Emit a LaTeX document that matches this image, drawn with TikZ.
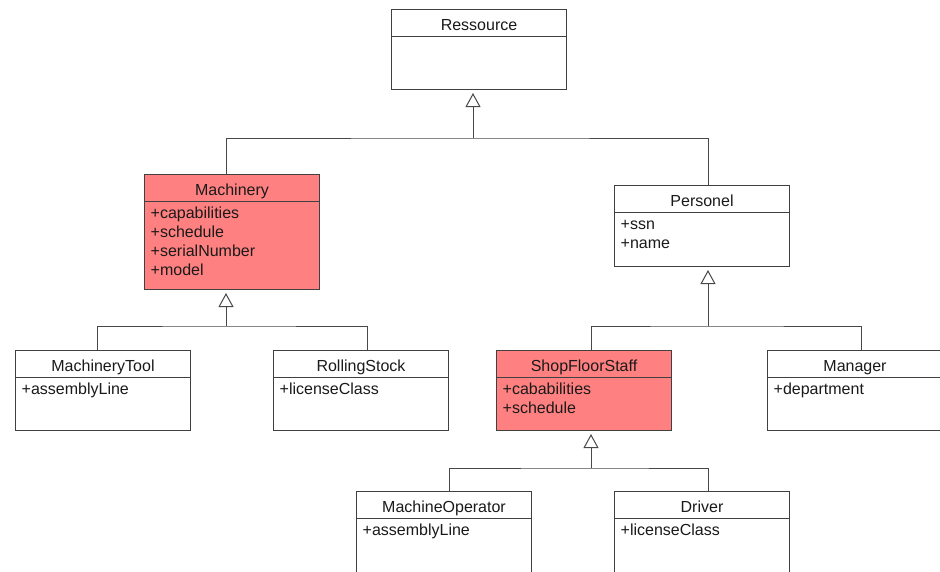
\documentclass[tikz,border=0pt]{standalone}
\usepackage{fontspec}
\setmainfont{Liberation Sans}
\usetikzlibrary{arrows.meta,calc}

\definecolor{hilite}{HTML}{FF8080}
\definecolor{edgegray}{HTML}{404040}
\definecolor{wiregray}{HTML}{484848}
\definecolor{ink}{HTML}{1A1A1A}

\tikzset{
  classbox/.style={draw=edgegray, line width=1pt, rectangle, inner sep=0pt,
    minimum width=175pt, anchor=north west},
  divider/.style={draw=edgegray, line width=1pt},
  classtitle/.style={anchor=base, inner sep=0pt, text=ink,
    font=\fontsize{16}{19}\selectfont},
  classattr/.style={anchor=base west, inner sep=0pt, text=ink,
    font=\fontsize{16}{19}\selectfont},
  bus/.style={draw=wiregray, line width=1pt},
  gen/.style={draw=wiregray, line width=1pt,
    -{Triangle[open, length=14pt, width=15pt, line width=1pt]}, shorten >=3pt},
}

% name, x, y, height, fill, title
\newcommand\umlclass[6]{%
  \node[classbox, fill=#5, minimum height=#4pt] (#1) at (#2,#3) {};
  \draw[divider] ($(#1.north west)+(0,27.5)$) -- ($(#1.north east)+(0,27.5)$);
  \node[classtitle] (#1-t) at ($(#1.north)+(0,21)$) {#6};
}
% name, list of attributes
\newcommand\umlattrs[2]{%
  \foreach \a [count=\i, evaluate=\i as \yy using 25.5+\i*19] in {#2}
    \node[classattr] (#1-a\i) at ($(#1.north west)+(6.5,\yy)$) {\a};
}

\begin{document}
\begin{tikzpicture}[x=1pt, y=-1pt]
  \useasboundingbox (0,0) rectangle (940,571);
  \fill[white] (0,0) rectangle (940,571);
  \clip (0,0) rectangle (940,571);

  % classes
  \umlclass{res}{391}{9}{80}{white}{Ressource}
  \umlclass{mach}{144}{174}{115}{hilite}{Machinery}
  \umlattrs{mach}{+capabilities,+schedule,+serialNumber,+model}
  \umlclass{pers}{614}{185}{81}{white}{Personel}
  \umlattrs{pers}{+ssn,+name}
  \umlclass{tool}{15}{350}{80}{white}{MachineryTool}
  \umlattrs{tool}{+assemblyLine}
  \umlclass{roll}{273}{350}{80}{white}{RollingStock}
  \umlattrs{roll}{+licenseClass}
  \umlclass{shop}{496}{350}{80}{hilite}{ShopFloorStaff}
  \umlattrs{shop}{+cababilities,+schedule}
  \umlclass{mgr}{767}{350}{80}{white}{Manager}
  \umlattrs{mgr}{+department}
  \umlclass{op}{356}{491}{100}{white}{MachineOperator}
  \umlattrs{op}{+assemblyLine}
  \umlclass{drv}{614}{491}{100}{white}{Driver}
  \umlattrs{drv}{+licenseClass}

  % generalization junctions
  \coordinate (j0) at (473,138);
  \coordinate (j1) at (226,326);
  \coordinate (j2) at (708,326);
  \coordinate (j3) at (591,468);

  % Ressource <- Machinery, Personel
  \draw[bus] ([xshift=-5.5pt]mach.north) |- (j0) -| ([xshift=6.5pt]pers.north);
  \draw[gen] (j0) -- (j0 |- res.south);

  % Machinery <- MachineryTool, RollingStock
  \draw[bus] ([xshift=-6pt]tool.north) |- (j1) -| ([xshift=6.5pt]roll.north);
  \draw[gen] (j1) -- (j1 |- mach.south);

  % Personel <- ShopFloorStaff, Manager
  \draw[bus] ([xshift=7pt]shop.north) |- (j2) -| ([xshift=6.5pt]mgr.north);
  \draw[gen] (j2) -- (j2 |- pers.south);

  % ShopFloorStaff <- MachineOperator, Driver
  \draw[bus] ([xshift=5.5pt]op.north) |- (j3) -| ([xshift=6.5pt]drv.north);
  \draw[gen] (j3) -- (j3 |- shop.south);
\end{tikzpicture}
\end{document}
